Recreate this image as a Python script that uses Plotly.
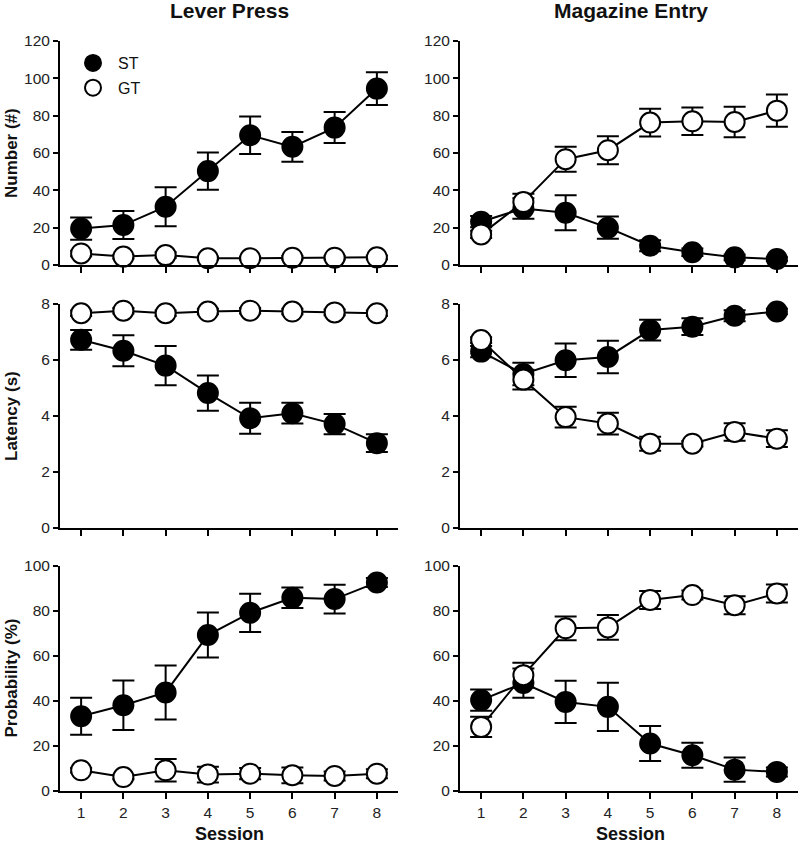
import plotly.graph_objects as go

sessions = [1, 2, 3, 4, 5, 6, 7, 8]
col_titles = ["Lever Press", "Magazine Entry"]
row_titles = ["Number (#)", "Latency (s)", "Probability (%)"]
x_title = "Session"

# Lever Press - Number
lp_num_st = [19.5, 21.4, 31.2, 50.3, 69.5, 63.3, 73.6, 94.5]
lp_num_st_err = [6, 7.5, 10.5, 10, 10, 8, 8.3, 8.8]
lp_num_gt = [6.2, 4.5, 5.3, 3.6, 3.6, 3.9, 3.9, 4.1]
lp_num_gt_err = [1.5, 1, 1.5, 0.8, 0.8, 1, 1, 1]
# Magazine Entry - Number
me_num_st = [23.2, 30.3, 28.0, 20.0, 10.3, 6.8, 4.1, 3.2]
me_num_st_err = [3, 5.5, 9.4, 6, 3, 2, 1.5, 1]
me_num_gt = [16.4, 33.7, 56.7, 61.5, 76.3, 77.0, 76.6, 82.7]
me_num_gt_err = [2, 4.5, 6.7, 7.5, 7.4, 7.4, 8.2, 8.6]
# Lever Press - Latency
lp_lat_st = [6.72, 6.33, 5.80, 4.82, 3.92, 4.10, 3.71, 3.03]
lp_lat_st_err = [0.35, 0.55, 0.7, 0.63, 0.55, 0.37, 0.36, 0.32]
lp_lat_gt = [7.67, 7.76, 7.67, 7.73, 7.76, 7.73, 7.70, 7.67]
lp_lat_gt_err = [0.1, 0.1, 0.1, 0.1, 0.1, 0.1, 0.1, 0.1]
# Magazine Entry - Latency
me_lat_st = [6.30, 5.50, 5.99, 6.11, 7.07, 7.19, 7.58, 7.73]
me_lat_st_err = [0.2, 0.4, 0.6, 0.58, 0.37, 0.3, 0.2, 0.1]
me_lat_gt = [6.71, 5.30, 3.96, 3.73, 3.01, 3.01, 3.43, 3.19]
me_lat_gt_err = [0.1, 0.35, 0.37, 0.39, 0.25, 0.1, 0.31, 0.3]
# Lever Press - Probability
lp_prob_st = [33.2, 38.1, 43.8, 69.3, 79.2, 85.9, 85.3, 92.7]
lp_prob_st_err = [8.2, 11, 12, 10, 8.5, 4.6, 6.4, 2]
lp_prob_gt = [9.2, 6.2, 9.2, 7.3, 7.7, 7.0, 6.7, 7.7]
lp_prob_gt_err = [1, 1, 5, 3.5, 2.5, 3.5, 2, 2]
# Magazine Entry - Probability
me_prob_st = [40.4, 48.0, 39.6, 37.4, 21.1, 15.9, 9.5, 8.5]
me_prob_st_err = [4.7, 6.5, 9.4, 10.7, 7.8, 5.6, 5.4, 2]
me_prob_gt = [28.5, 51.5, 72.3, 72.7, 84.9, 87.1, 82.6, 87.8]
me_prob_gt_err = [4.5, 5.5, 5.3, 5.5, 4, 2, 4, 4]

y_ranges = [[0, 120], [0, 8], [0, 100]]
y_dticks = [20, 2, 20]

panels = [
    [(lp_num_st, lp_num_st_err, lp_num_gt, lp_num_gt_err),
     (me_num_st, me_num_st_err, me_num_gt, me_num_gt_err)],
    [(lp_lat_st, lp_lat_st_err, lp_lat_gt, lp_lat_gt_err),
     (me_lat_st, me_lat_st_err, me_lat_gt, me_lat_gt_err)],
    [(lp_prob_st, lp_prob_st_err, lp_prob_gt, lp_prob_gt_err),
     (me_prob_st, me_prob_st_err, me_prob_gt, me_prob_gt_err)],
]

W, H = 800, 844
col_px = [(60, 398), (460, 798)]
row_px = [(41, 265), (304, 528), (566, 791)]

FONT = "Liberation Sans, Arial, sans-serif"
TICKSIZE = 15.5

fig = go.Figure()
layout = dict(
    width=W, height=H, margin=dict(l=0, r=0, t=0, b=0, autoexpand=False),
    plot_bgcolor="white", paper_bgcolor="white",
    font=dict(family=FONT, color="#222", size=14),
    showlegend=True,
    legend=dict(x=68 / W, y=1 - 46 / H, xanchor="left", yanchor="top",
                font=dict(size=16, color="#111"), bgcolor="rgba(0,0,0,0)",
                tracegroupgap=1, itemwidth=40),
)

idx = 0
for r in range(3):
    for c in range(2):
        idx += 1
        xa = "x" if idx == 1 else f"x{idx}"
        ya = "y" if idx == 1 else f"y{idx}"
        st, st_e, gt, gt_e = panels[r][c]
        for name, vals, errs, fill in (("ST", st, st_e, "black"), ("GT", gt, gt_e, "white")):
            # connecting line
            fig.add_trace(go.Scatter(
                x=sessions, y=vals, name=name, legendgroup=name,
                showlegend=False, xaxis=xa, yaxis=ya, hoverinfo="skip",
                mode="lines", cliponaxis=False,
                line=dict(color="black", width=2),
            ))
            # markers with error bars
            fig.add_trace(go.Scatter(
                x=sessions, y=vals, name=name, legendgroup=name,
                showlegend=(idx == 1), xaxis=xa, yaxis=ya,
                mode="markers", cliponaxis=False,
                marker=dict(size=20, color=fill, line=dict(color="black", width=2)),
                error_y=dict(type="data", array=errs, visible=True,
                             color="black", thickness=2, width=11),
            ))
        x0, x1 = col_px[c]
        y0, y1 = row_px[r]
        axis_common = dict(showline=True, linecolor="black", linewidth=2,
                           ticks="outside", tickcolor="black", tickwidth=2,
                           showgrid=False, zeroline=False, automargin=False)
        layout["xaxis" if idx == 1 else f"xaxis{idx}"] = dict(
            domain=[x0 / W, x1 / W], anchor=ya, range=[0.5, 8.5],
            tickvals=sessions, ticklen=6, showticklabels=(r == 2),
            tickfont=dict(size=TICKSIZE, color="#222"), **axis_common)
        layout["yaxis" if idx == 1 else f"yaxis{idx}"] = dict(
            domain=[1 - y1 / H, 1 - y0 / H], anchor=xa, range=y_ranges[r],
            dtick=y_dticks[r], tick0=0, ticklen=5,
            tickfont=dict(size=TICKSIZE, color="#222"), **axis_common)

annotations = []
for c in range(2):
    cx_px = (81 + 377) / 2 if c == 0 else (483 + 778) / 2
    cx = cx_px / W
    annotations.append(dict(text=f"<b>{col_titles[c]}</b>", x=cx, y=1 - 11 / H,
                            xref="paper", yref="paper", showarrow=False,
                            xanchor="center", yanchor="middle",
                            font=dict(size=21, color="#111", family=FONT)))
    annotations.append(dict(text=f"<b>{x_title}</b>", x=cx, y=1 - 834 / H,
                            xref="paper", yref="paper", showarrow=False,
                            xanchor="center", yanchor="middle",
                            font=dict(size=18, color="#111", family=FONT)))
for r in range(3):
    cy = 1 - (row_px[r][0] + row_px[r][1]) / 2 / H
    annotations.append(dict(text=f"<b>{row_titles[r]}</b>", x=11 / W, y=cy,
                            xref="paper", yref="paper", showarrow=False,
                            textangle=-90, xanchor="center", yanchor="middle",
                            font=dict(size=17, color="#111", family=FONT)))
layout["annotations"] = annotations

fig.update_layout(**layout)
# remove the default page margin so the 800x844 figure fills the window exactly
fig.write_html("out.html", config={"displayModeBar": False},
               post_script="document.body.style.margin='0px';")
